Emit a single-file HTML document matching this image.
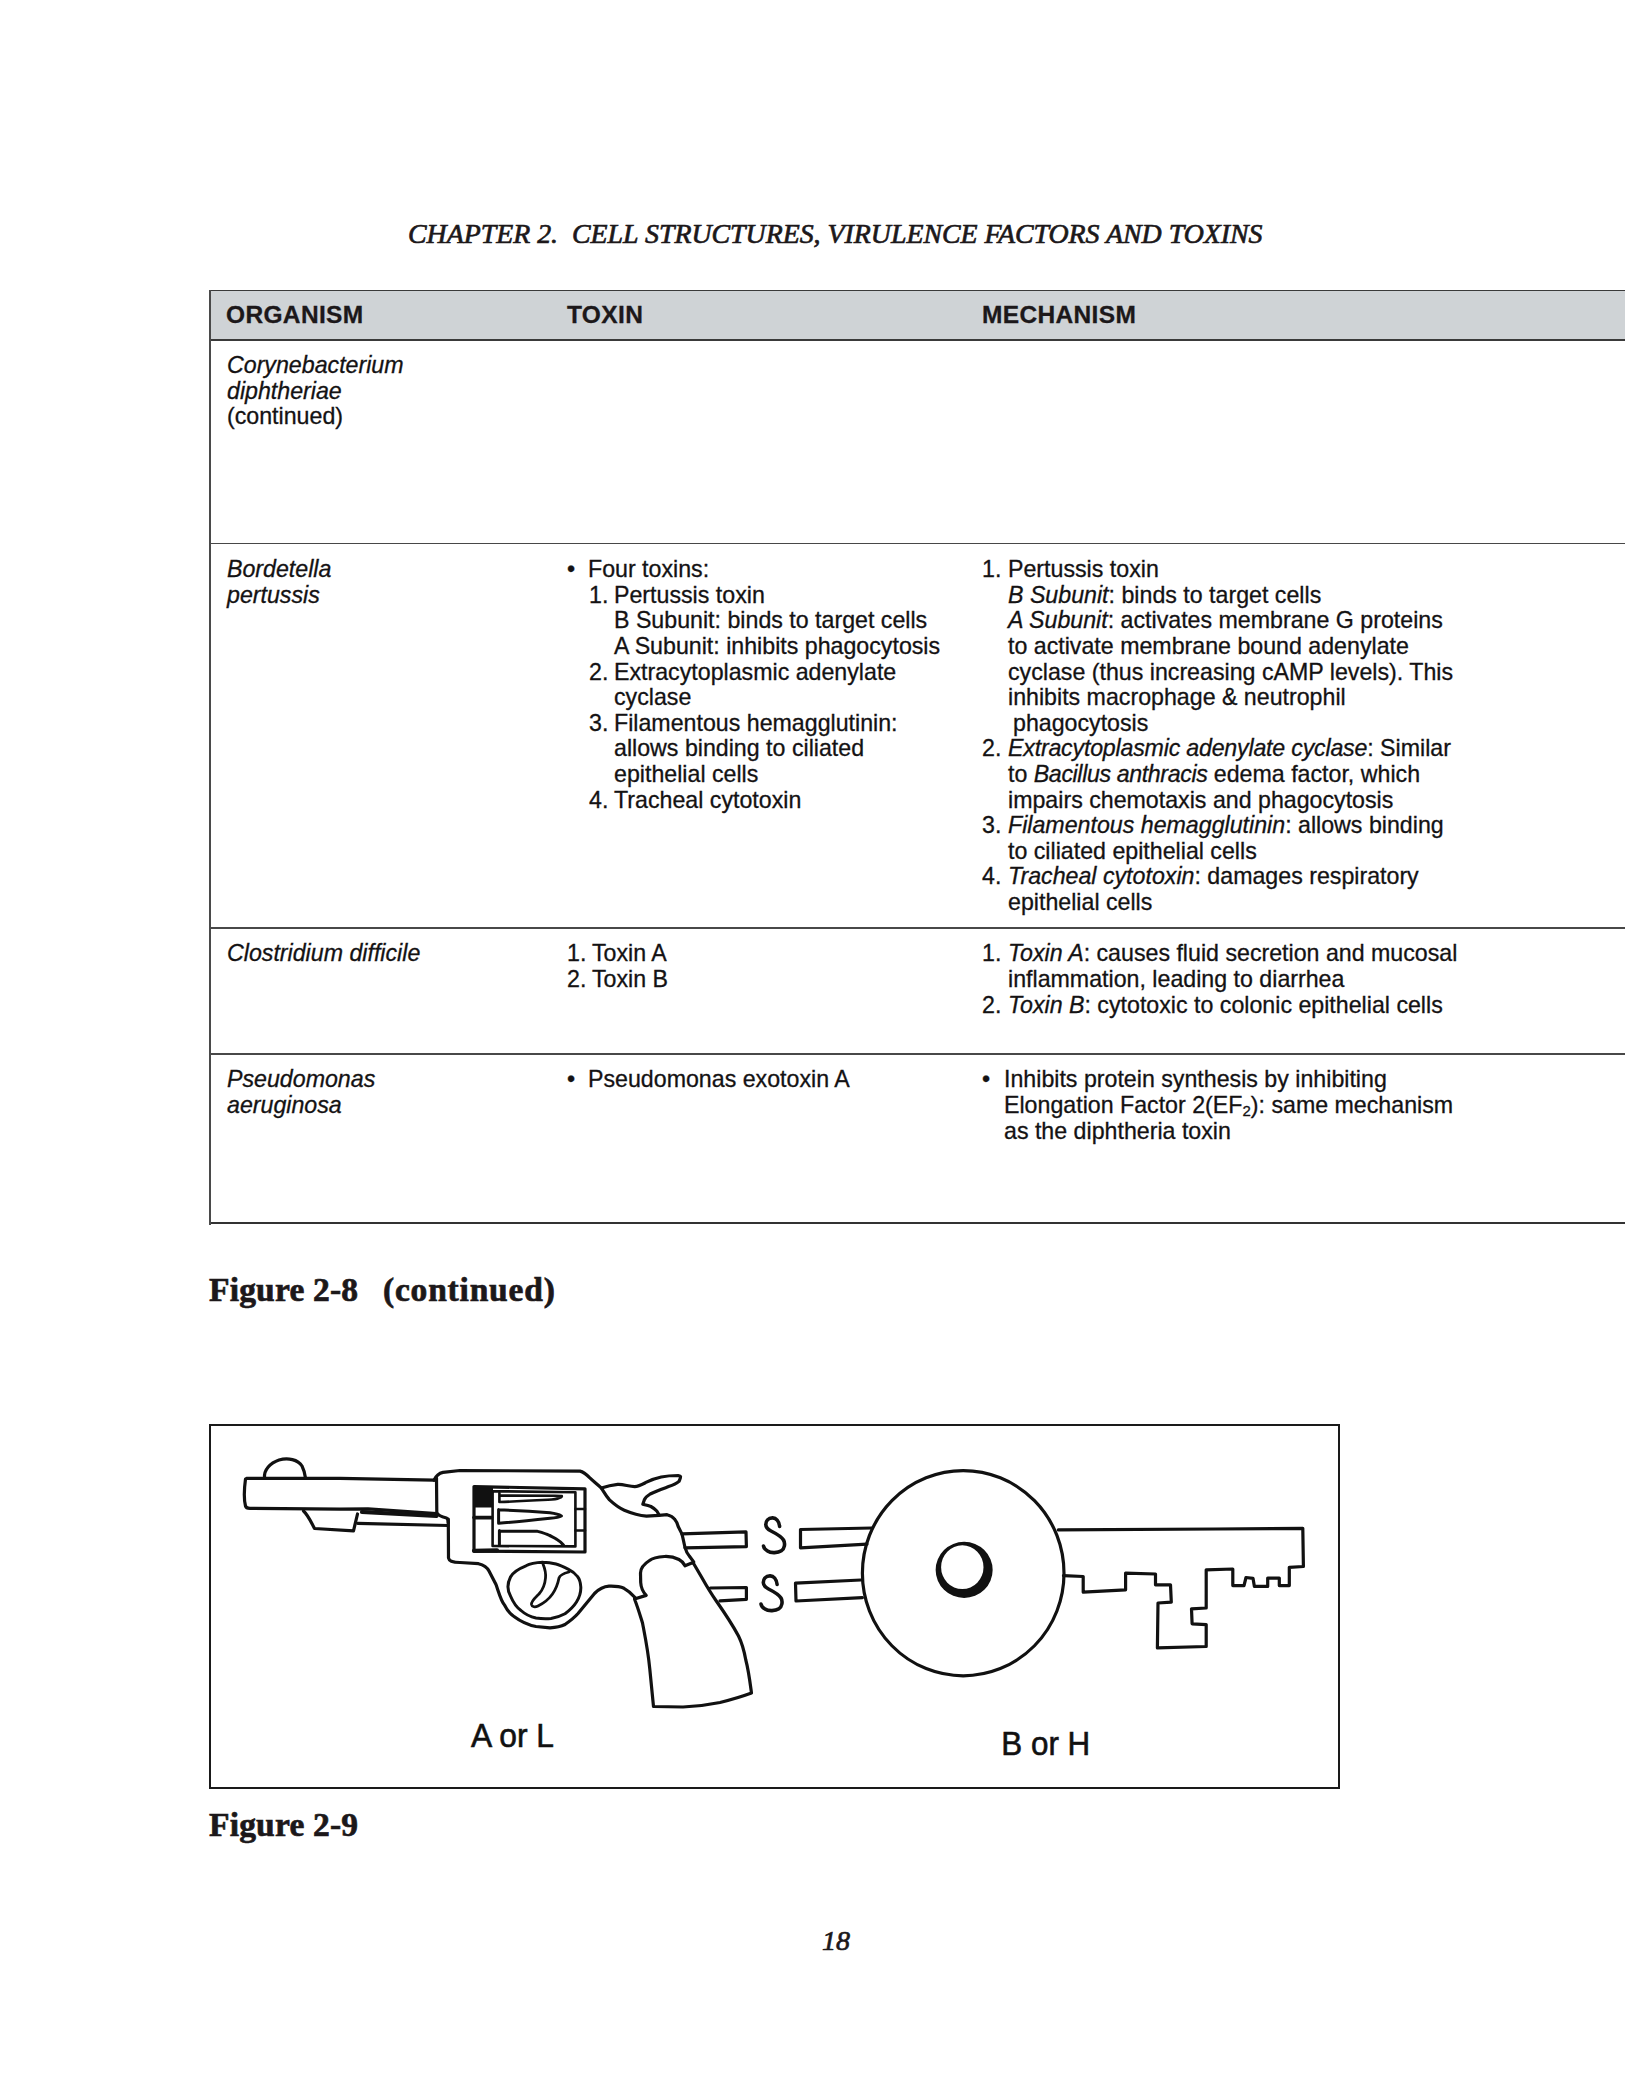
<!DOCTYPE html>
<html><head><meta charset="utf-8">
<style>
html,body{margin:0;padding:0;background:#fff;}
body{width:1625px;height:2089px;position:relative;overflow:hidden;}
.t{position:absolute;white-space:pre;font-family:"Liberation Sans",sans-serif;font-size:23.2px;line-height:25.6px;color:#141213;-webkit-text-stroke:0.3px #141213;}
.t i{font-style:italic;}
.sub{font-size:15px;position:relative;top:3px;}
.hdr{position:absolute;left:209px;top:290px;width:1430px;height:49px;background:#cfd3d6;}
.hl{position:absolute;left:209px;width:1430px;background:#484848;}
.vl{position:absolute;left:209px;width:2px;background:#4a4a4a;}
.h{position:absolute;white-space:pre;font-family:"Liberation Sans",sans-serif;font-weight:bold;font-size:24.5px;line-height:30px;color:#1c181a;letter-spacing:0.35px;-webkit-text-stroke:0.3px #1c181a;}
.ser{position:absolute;white-space:pre;font-family:"Liberation Serif",serif;color:#1c181a;-webkit-text-stroke:0.7px #1c181a;}
</style></head><body>
<div class="ser" style="left:408px;top:218px;font-size:27.85px;line-height:32px;font-style:italic;">CHAPTER 2.&#160; CELL STRUCTURES, VIRULENCE FACTORS AND TOXINS</div>
<div class="hdr"></div>
<div class="hl" style="top:289.6px;height:1.8px;background:#3a3a3a;"></div>
<div class="hl" style="top:338.5px;height:2px;background:#3a3a3a;"></div>
<div class="hl" style="top:542.5px;height:1.9px;"></div>
<div class="hl" style="top:926.5px;height:2px;"></div>
<div class="hl" style="top:1052.8px;height:2px;"></div>
<div class="hl" style="top:1222.3px;height:2px;background:#333;"></div>
<div class="vl" style="top:289.5px;height:935px;"></div>
<div class="h" style="left:226px;top:300px;">ORGANISM</div>
<div class="h" style="left:567px;top:300px;">TOXIN</div>
<div class="h" style="left:982px;top:300px;">MECHANISM</div>
<div class="t" style="left:227px;top:353.16px"><i>Corynebacterium</i></div>
<div class="t" style="left:227px;top:378.76px"><i>diphtheriae</i></div>
<div class="t" style="left:227px;top:404.36px">(continued)</div>
<div class="t" style="left:227px;top:557.16px"><i>Bordetella</i></div>
<div class="t" style="left:227px;top:582.76px"><i>pertussis</i></div>
<div class="t" style="left:567px;top:557.16px">•</div>
<div class="t" style="left:588px;top:557.16px">Four toxins:</div>
<div class="t" style="left:589px;top:582.76px">1.</div>
<div class="t" style="left:614px;top:582.76px">Pertussis toxin</div>
<div class="t" style="left:614px;top:608.36px">B Subunit: binds to target cells</div>
<div class="t" style="left:614px;top:633.96px">A Subunit: inhibits phagocytosis</div>
<div class="t" style="left:589px;top:659.56px">2.</div>
<div class="t" style="left:614px;top:659.56px">Extracytoplasmic adenylate</div>
<div class="t" style="left:614px;top:685.16px">cyclase</div>
<div class="t" style="left:589px;top:710.76px">3.</div>
<div class="t" style="left:614px;top:710.76px">Filamentous hemagglutinin:</div>
<div class="t" style="left:614px;top:736.36px">allows binding to ciliated</div>
<div class="t" style="left:614px;top:761.96px">epithelial cells</div>
<div class="t" style="left:589px;top:787.56px">4.</div>
<div class="t" style="left:614px;top:787.56px">Tracheal cytotoxin</div>
<div class="t" style="left:982px;top:557.16px">1.</div>
<div class="t" style="left:1008px;top:557.16px">Pertussis toxin</div>
<div class="t" style="left:1008px;top:582.76px"><i>B Subunit</i>: binds to target cells</div>
<div class="t" style="left:1008px;top:608.36px"><i>A Subunit</i>: activates membrane G proteins</div>
<div class="t" style="left:1008px;top:633.96px">to activate membrane bound adenylate</div>
<div class="t" style="left:1008px;top:659.56px">cyclase (thus increasing cAMP levels). This</div>
<div class="t" style="left:1008px;top:685.16px">inhibits macrophage &amp; neutrophil</div>
<div class="t" style="left:1013px;top:710.76px">phagocytosis</div>
<div class="t" style="left:982px;top:736.36px">2.</div>
<div class="t" style="left:1008px;top:736.36px"><i style="letter-spacing:-0.2px">Extracytoplasmic adenylate cyclase</i>: Similar</div>
<div class="t" style="left:1008px;top:761.96px">to <i style="letter-spacing:-0.38px">Bacillus anthracis</i> edema factor, which</div>
<div class="t" style="left:1008px;top:787.56px">impairs chemotaxis and phagocytosis</div>
<div class="t" style="left:982px;top:813.16px">3.</div>
<div class="t" style="left:1008px;top:813.16px"><i>Filamentous hemagglutinin</i>: allows binding</div>
<div class="t" style="left:1008px;top:838.76px">to ciliated epithelial cells</div>
<div class="t" style="left:982px;top:864.36px">4.</div>
<div class="t" style="left:1008px;top:864.36px"><i>Tracheal cytotoxin</i>: damages respiratory</div>
<div class="t" style="left:1008px;top:889.96px">epithelial cells</div>
<div class="t" style="left:227px;top:941.36px"><i>Clostridium difficile</i></div>
<div class="t" style="left:567px;top:941.36px">1.</div>
<div class="t" style="left:592px;top:941.36px">Toxin A</div>
<div class="t" style="left:567px;top:966.96px">2.</div>
<div class="t" style="left:592px;top:966.96px">Toxin B</div>
<div class="t" style="left:982px;top:941.36px">1.</div>
<div class="t" style="left:1008px;top:941.36px"><i>Toxin A</i>: causes fluid secretion and mucosal</div>
<div class="t" style="left:1008px;top:966.96px">inflammation, leading to diarrhea</div>
<div class="t" style="left:982px;top:992.56px">2.</div>
<div class="t" style="left:1008px;top:992.56px"><i>Toxin B</i>: cytotoxic to colonic epithelial cells</div>
<div class="t" style="left:227px;top:1067.36px"><i>Pseudomonas</i></div>
<div class="t" style="left:227px;top:1092.96px"><i>aeruginosa</i></div>
<div class="t" style="left:567px;top:1067.36px">•</div>
<div class="t" style="left:588px;top:1067.36px">Pseudomonas exotoxin A</div>
<div class="t" style="left:982px;top:1067.36px">•</div>
<div class="t" style="left:1004px;top:1067.36px">Inhibits protein synthesis by inhibiting</div>
<div class="t" style="left:1004px;top:1092.96px">Elongation Factor 2(EF<span class="sub">2</span>): same mechanism</div>
<div class="t" style="left:1004px;top:1118.56px">as the diphtheria toxin</div>
<div class="ser" style="left:209px;top:1272px;font-size:33.5px;line-height:36px;font-weight:bold;letter-spacing:0.2px;">Figure 2-8</div>
<div class="ser" style="left:383px;top:1272px;font-size:33.5px;line-height:36px;font-weight:bold;letter-spacing:0.8px;">(continued)</div>
<div style="position:absolute;left:209px;top:1424px;width:1131px;height:365px;box-sizing:border-box;border:2.5px solid #1a1a1a;"></div>
<svg style="position:absolute;left:0;top:0" width="1625" height="2089" viewBox="0 0 1625 2089">
<rect x="473" y="1486.5" width="20" height="21" fill="#111"/>
<path d="M246.5,1478.3 L340,1478.3 L434,1480.2 M245.5,1479 C244,1490 244,1500 245.5,1506 C246,1508 248,1508.5 251,1508.3 L340,1509.2 L368,1508.8 L436.5,1513.5" fill="none" stroke="#111" stroke-width="3.2" stroke-linejoin="round" stroke-linecap="round"/>
<path d="M264.5,1477.5 C264,1470 270,1463 279,1460 C288,1457.5 298,1459.5 302,1466 C304,1470 305,1474 305.5,1478" fill="none" stroke="#111" stroke-width="3.2" stroke-linejoin="round" stroke-linecap="round"/>
<path d="M303.5,1511 C308,1515 311,1522 314.5,1528.5 L353.5,1530.8 L357.5,1514" fill="none" stroke="#111" stroke-width="3.2" stroke-linejoin="round" stroke-linecap="round"/>
<path d="M362,1512 L436.5,1515.8" fill="none" stroke="#111" stroke-width="4.2" stroke-linejoin="round" stroke-linecap="round"/>
<path d="M357.7,1523.3 L448,1525.5" fill="none" stroke="#111" stroke-width="3.2" stroke-linejoin="round" stroke-linecap="round"/>
<path d="M434,1480.2 C435.5,1477 438,1473.5 443,1472.4 L460,1470.5 L580,1471.1 C584,1472 587,1475 589.6,1477.7 C593,1481 597,1484 601.4,1488.1 C604,1492 606,1496 609.5,1499.9 C614,1504 619,1508 624.3,1510.2 C631,1513 639,1515.5 646.5,1516.1 L659,1515.4 L667.1,1514.7 C670,1515.5 673,1517 674.5,1519.1 C676.5,1521.5 677.5,1524 678.2,1526.5 L681.9,1533.9 C683,1538 684,1543 684.9,1547.1 C686,1551 687.5,1554 689.3,1556 L693.7,1561.9" fill="none" stroke="#111" stroke-width="3.2" stroke-linejoin="round" stroke-linecap="round"/>
<path d="M436.5,1478 L436.8,1512.5 C438,1516 442,1517 446.5,1518 C448,1519 448.3,1521 448.3,1523" fill="none" stroke="#111" stroke-width="3.2" stroke-linejoin="round" stroke-linecap="round"/>
<path d="M448.3,1519 L448.5,1558 C449,1561 452,1562.5 460,1562.5 L478.5,1563.7 C484,1565 487,1567 489,1571 L496,1584.5 C499,1593 501,1601 504.5,1605 C507,1610 510,1614 514,1616.5 C520,1621 528,1625 536,1626.5 L550,1627.8 C556,1627.5 561,1626.5 565,1624.5 C570,1621 574,1618 578,1613.5 L594.5,1593.5 C599,1589 604,1586.5 609,1586.2 C615,1586 620,1586.5 624,1588.3 C629,1591 632,1594 635,1597.5" fill="none" stroke="#111" stroke-width="3.2" stroke-linejoin="round" stroke-linecap="round"/>
<path d="M601.4,1488.1 C606,1486.5 612,1485 617.7,1484.4 C623,1484 629,1486.5 634.7,1486.6 C639,1486.5 643,1484 646.5,1482.2 C651,1480 656,1478 661.2,1477 C666,1476 672,1475.5 678.2,1475.5 C680,1475.7 681,1476.5 680.4,1477.7 C680,1479 679.5,1480.5 679,1481.4 C676,1484 672,1485.5 668.6,1486.6 C662,1489 656,1491 650.2,1494 C647,1496 645,1498 644.3,1499.9 L642.8,1504.3 C646,1505 648.5,1505.5 650.9,1506.5 C653.5,1508 655.5,1509.5 656.8,1511 L659,1514.7" fill="none" stroke="#111" stroke-width="3.2" stroke-linejoin="round" stroke-linecap="round"/>
<path d="M693,1562.5 L685,1565.8 C683,1562 681,1560.5 679,1559.5 C674,1557 669,1556.3 664.5,1556.5 C657,1557 652,1558.5 649.5,1560.5 C644,1564 640.5,1568 640.5,1573 L640.7,1582.5 C641,1588 643,1592 646.2,1595.4 L634.5,1599 C638,1608 640,1615 642.5,1623 C645,1636 648,1650 649.8,1669.2 L653.5,1706.5 L683,1707 C695,1706.5 708,1705 720,1702.5 C732,1699.5 742,1696.5 751.5,1693 C750,1682 748.5,1670 745.8,1660 C744,1650 742,1643 738.5,1636 C731,1622 724,1612 716.3,1601 C710,1592 706,1585 701.5,1577 L693,1562.5" fill="none" stroke="#111" stroke-width="3.2" stroke-linejoin="round" stroke-linecap="round"/>
<path d="M474,1486.6 L585,1488.8 L585,1552 L474,1551.2 Z" fill="none" stroke="#111" stroke-width="3.2" stroke-linejoin="round" stroke-linecap="round"/>
<path d="M474,1550.8 L497,1550.3" fill="none" stroke="#111" stroke-width="4.2" stroke-linejoin="round" stroke-linecap="round"/>
<path d="M492.6,1491.2 L575.4,1492.2 L575.4,1546.4 L492.6,1546 Z" fill="none" stroke="#111" stroke-width="2.6" stroke-linejoin="round" stroke-linecap="round"/>
<path d="M474,1517.6 L491.5,1517.6" fill="none" stroke="#111" stroke-width="3.6" stroke-linejoin="round" stroke-linecap="round"/>
<path d="M575.5,1509 L585,1509 M575.5,1530.5 L585,1530.5" fill="none" stroke="#111" stroke-width="2.6" stroke-linejoin="round" stroke-linecap="round"/>
<path d="M499.4,1493 L499.4,1502 C515,1501.5 535,1500.5 548,1499.8 C553,1499.5 557,1499 559,1498 C561,1497.5 562,1496.8 561.8,1496 C561,1495.8 558,1495.8 555,1495.8 L499.4,1495.6" fill="none" stroke="#111" stroke-width="2.6" stroke-linejoin="round" stroke-linecap="round"/>
<path d="M498.6,1509.6 L498.6,1523.2 M498.6,1509.8 C515,1510.3 535,1511.5 550,1512.8 C555,1513.5 559,1514.5 561.4,1516 C559,1517.3 555,1517.8 550,1518.3 C535,1520 515,1522.2 498.6,1523.2" fill="none" stroke="#111" stroke-width="3.0" stroke-linejoin="round" stroke-linecap="round"/>
<path d="M499.4,1530.4 L499.4,1544.5 M499.4,1531.2 L537,1531.2 C542,1532.5 546,1533.5 549,1535.2 C552.5,1537 555,1538 557,1539.5 C559.5,1541 561.5,1542.5 563.4,1545" fill="none" stroke="#111" stroke-width="3.0" stroke-linejoin="round" stroke-linecap="round"/>
<path d="M542.8,1562.2 C535,1562.5 530,1563.5 526,1565.8 C518,1569 513,1572 510.5,1577 C507.5,1583 507,1590 510.5,1596 C513,1602 516,1607 521,1610.5 C526,1615 531,1617 536,1618 C541,1618.8 546,1619 551,1618.5 C557,1617.5 561,1616 565,1613.8 C570,1610 574,1606 576.5,1602 C579.5,1597 581,1592 580.8,1587 C580.5,1582 579.5,1579 577.5,1576.5 C575,1573 572,1571 568.5,1569.3 C564,1567 560,1565 556,1564 C552,1563 547,1562.3 542.8,1562.2" fill="none" stroke="#111" stroke-width="3.0" stroke-linejoin="round" stroke-linecap="round"/>
<path d="M543,1564 C545,1569 546,1574 545.5,1578 C545,1584 543.5,1589 539,1594 C535,1598 531,1601 531.5,1604.5 C532,1607 535,1607.5 538,1606 C544,1603 549,1599 552.5,1594 C556,1589 558,1583 559,1578 C560,1575 563,1573.5 569,1572" fill="none" stroke="#111" stroke-width="2.8" stroke-linejoin="round" stroke-linecap="round"/>
<path d="M681.9,1533.9 L746,1531.8 L746.4,1546.6 L685,1547.8" fill="none" stroke="#111" stroke-width="3.2" stroke-linejoin="round" stroke-linecap="round"/>
<path d="M710.4,1588 L746.4,1587.5 L746.4,1599.3 L720,1600.8" fill="none" stroke="#111" stroke-width="3.2" stroke-linejoin="round" stroke-linecap="round"/>
<path d="M872,1528 L800.5,1529.5 L800.5,1547.8 L867,1544.2" fill="none" stroke="#111" stroke-width="3.2" stroke-linejoin="round" stroke-linecap="round"/>
<path d="M860.8,1580 L795.5,1583.2 L796,1601 L862.4,1597.6" fill="none" stroke="#111" stroke-width="3.2" stroke-linejoin="round" stroke-linecap="round"/>
<path d="M1058.3,1529.9 L1216.0,1529.0 L1302.8,1528.3 L1303.4,1566.5 L1289.3,1567.3 L1289.3,1585.6 L1279.3,1585.6 L1279.3,1578.1 L1267.7,1578.1 L1267.7,1586.4 L1254.4,1586.4 L1253.0,1578.3 L1246.0,1577.5 L1244.0,1585.6 L1232.8,1585.6 L1232.8,1569.0 L1206.2,1569.8 L1206.2,1608.0 L1191.5,1608.9 L1192.1,1623.8 L1206.2,1624.6 L1206.2,1646.5 L1157.4,1647.9 L1158.0,1603.0 L1171.3,1602.2 L1170.5,1584.8 L1155.5,1584.8 L1155.5,1574.0 L1125.6,1573.1 L1125.6,1589.8 L1083.2,1592.2 L1083.2,1576.5 L1063.5,1575.6" fill="none" stroke="#111" stroke-width="3.2" stroke-linejoin="round" stroke-linecap="round"/>
<ellipse cx="963.2" cy="1573.2" rx="100.8" ry="102.6" fill="none" stroke="#111" stroke-width="3.2"/>
<path fill-rule="evenodd" fill="#111" d="M935.65,1569.90 A28.5,28.1 0 1,0 992.65,1569.90 A28.5,28.1 0 1,0 935.65,1569.90 Z M941.10,1567.20 A21.2,21.9 0 1,0 983.50,1567.20 A21.2,21.9 0 1,0 941.10,1567.20 Z"/>
<path d="M779.6,1526.4 C779,1521 776,1518 772.7,1517.9 C768,1517.8 765.8,1521 765.8,1524.5 C765.8,1528 768,1529.5 771,1531 C776,1533.5 781,1536 783.5,1540 C785.5,1543.5 784.5,1549 781.4,1550.8 C778,1553 771,1553.5 767.5,1551 C765,1549.5 763.8,1548 763.5,1546" fill="none" stroke="#111" stroke-width="3.6" stroke-linecap="round"/>
<path transform="translate(-2.5,58)" d="M779.6,1526.4 C779,1521 776,1518 772.7,1517.9 C768,1517.8 765.8,1521 765.8,1524.5 C765.8,1528 768,1529.5 771,1531 C776,1533.5 781,1536 783.5,1540 C785.5,1543.5 784.5,1549 781.4,1550.8 C778,1553 771,1553.5 767.5,1551 C765,1549.5 763.8,1548 763.5,1546" fill="none" stroke="#111" stroke-width="3.6" stroke-linecap="round"/>
<text x="471" y="1747.2" font-family="Liberation Sans" font-size="33" fill="#111" stroke="#111" stroke-width="0.6" textLength="83" lengthAdjust="spacingAndGlyphs">A or L</text>
<text x="1001.3" y="1755.2" font-family="Liberation Sans" font-size="33" fill="#111" stroke="#111" stroke-width="0.6" textLength="89" lengthAdjust="spacingAndGlyphs">B or H</text>
</svg>
<div class="ser" style="left:209px;top:1807px;font-size:33.5px;line-height:36px;font-weight:bold;letter-spacing:0.2px;">Figure 2-9</div>
<div class="ser" style="left:822px;top:1925px;font-size:28px;line-height:32px;font-style:italic;">18</div>
</body></html>
